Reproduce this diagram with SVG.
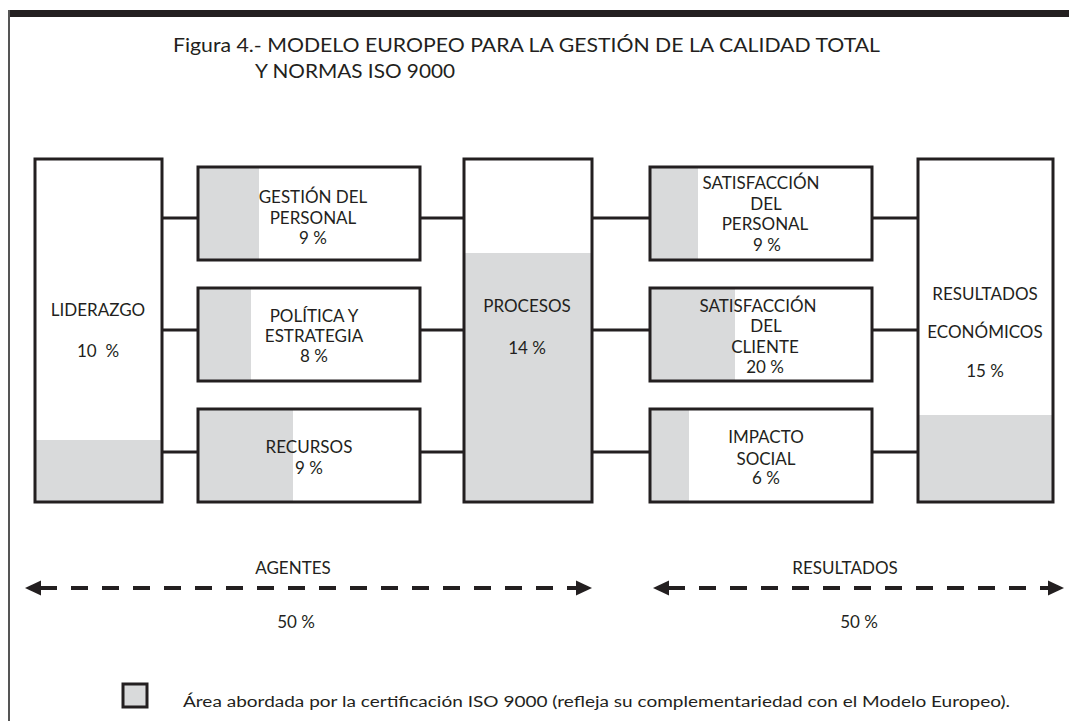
<svg xmlns="http://www.w3.org/2000/svg" width="1069" height="721" viewBox="0 0 1069 721">
<defs>
<style>
.box{fill:none;stroke:#231f20;stroke-width:3}
.sh{fill:#d9dadb}
.t{font-family:Lato,"Liberation Sans",sans-serif;font-size:17px;fill:#231f20;text-anchor:middle}
.ttl{font-family:Lato,"Liberation Sans",sans-serif;font-size:19px;fill:#231f20}
.con{stroke:#231f20;stroke-width:3;fill:none}
.dash{stroke:#231f20;stroke-width:4;fill:none;stroke-dasharray:17 14}
.ah{fill:#231f20}
</style>
</defs>
<rect width="1069" height="721" fill="#fff"/>
<rect x="8" y="10" width="1061" height="7" fill="#231f20"/>
<line x1="9" y1="10" x2="9" y2="721" stroke="#555" stroke-width="2"/>
<text class="ttl" x="173" y="52" textLength="707" lengthAdjust="spacingAndGlyphs">Figura 4.- MODELO EUROPEO PARA LA GESTIÓN DE LA CALIDAD TOTAL</text>
<text class="ttl" x="255" y="78" textLength="200" lengthAdjust="spacingAndGlyphs">Y NORMAS ISO 9000</text>

<g id="connectors">
<line class="con" x1="162" y1="218" x2="198" y2="218"/>
<line class="con" x1="162" y1="330" x2="198" y2="330"/>
<line class="con" x1="162" y1="452" x2="198" y2="452"/>
<line class="con" x1="420" y1="218" x2="464" y2="218"/>
<line class="con" x1="420" y1="330" x2="464" y2="330"/>
<line class="con" x1="420" y1="452" x2="464" y2="452"/>
<line class="con" x1="592" y1="218" x2="650" y2="218"/>
<line class="con" x1="592" y1="330" x2="650" y2="330"/>
<line class="con" x1="592" y1="452" x2="650" y2="452"/>
<line class="con" x1="872" y1="218" x2="918" y2="218"/>
<line class="con" x1="872" y1="330" x2="918" y2="330"/>
<line class="con" x1="872" y1="452" x2="918" y2="452"/>
</g>

<g id="liderazgo">
<rect class="sh" x="35" y="440" width="127" height="62"/>
<rect class="box" x="35" y="159" width="127" height="343"/>
<text class="t" x="98" y="316">LIDERAZGO</text>
<text class="t" x="98" y="357" xml:space="preserve">10  %</text>
</g>

<g id="gestion-personal">
<rect class="sh" x="198" y="167" width="61" height="93"/>
<rect class="box" x="198" y="167" width="222" height="93"/>
<text class="t" x="313" y="203">GESTIÓN DEL</text>
<text class="t" x="313" y="224">PERSONAL</text>
<text class="t" x="313" y="244">9 %</text>
</g>

<g id="politica">
<rect class="sh" x="198" y="288" width="53" height="93"/>
<rect class="box" x="198" y="288" width="222" height="93"/>
<text class="t" x="314" y="322">POLÍTICA Y</text>
<text class="t" x="314" y="342">ESTRATEGIA</text>
<text class="t" x="314" y="362">8 %</text>
</g>

<g id="recursos">
<rect class="sh" x="198" y="409" width="95" height="93"/>
<rect class="box" x="198" y="409" width="222" height="93"/>
<text class="t" x="309" y="453">RECURSOS</text>
<text class="t" x="309" y="474">9 %</text>
</g>

<g id="procesos">
<rect class="sh" x="464" y="253" width="128" height="249"/>
<rect class="box" x="464" y="159" width="128" height="343"/>
<text class="t" x="527" y="312">PROCESOS</text>
<text class="t" x="527" y="354">14 %</text>
</g>

<g id="satisfaccion-personal">
<rect class="sh" x="650" y="167" width="48" height="93"/>
<rect class="box" x="650" y="167" width="222" height="93"/>
<text class="t" x="761" y="189">SATISFACCIÓN</text>
<text class="t" x="766" y="210">DEL</text>
<text class="t" x="765" y="230">PERSONAL</text>
<text class="t" x="767" y="251">9 %</text>
</g>

<g id="satisfaccion-cliente">
<rect class="sh" x="650" y="288" width="85" height="93"/>
<rect class="box" x="650" y="288" width="222" height="93"/>
<text class="t" x="758" y="312">SATISFACCIÓN</text>
<text class="t" x="766" y="332">DEL</text>
<text class="t" x="765" y="353">CLIENTE</text>
<text class="t" x="765" y="373">20 %</text>
</g>

<g id="impacto-social">
<rect class="sh" x="650" y="409" width="39" height="93"/>
<rect class="box" x="650" y="409" width="222" height="93"/>
<text class="t" x="766" y="443">IMPACTO</text>
<text class="t" x="766" y="465">SOCIAL</text>
<text class="t" x="766" y="484">6 %</text>
</g>

<g id="resultados-economicos">
<rect class="sh" x="918" y="415" width="135" height="87"/>
<rect class="box" x="918" y="159" width="135" height="343"/>
<text class="t" x="985" y="300">RESULTADOS</text>
<text class="t" x="985" y="338">ECONÓMICOS</text>
<text class="t" x="985" y="377">15 %</text>
</g>

<g id="agentes">
<text class="t" x="293" y="574">AGENTES</text>
<line class="dash" x1="40" y1="588" x2="577" y2="588"/>
<polygon class="ah" points="25,588 41,580.5 41,595.5"/>
<polygon class="ah" points="592,588 576,580.5 576,595.5"/>
<text class="t" x="296" y="628">50 %</text>
</g>

<g id="resultados">
<text class="t" x="845" y="574">RESULTADOS</text>
<line class="dash" x1="668" y1="588" x2="1049" y2="588"/>
<polygon class="ah" points="653,588 669,580.5 669,595.5"/>
<polygon class="ah" points="1064,588 1048,580.5 1048,595.5"/>
<text class="t" x="859" y="628">50 %</text>
</g>

<g id="legend">
<rect x="123" y="684" width="24" height="23" fill="#d9dadb" stroke="#231f20" stroke-width="3"/>
<text x="183" y="707" style="font-family:Lato,'Liberation Sans',sans-serif;font-size:14.5px;fill:#231f20" textLength="827" lengthAdjust="spacingAndGlyphs">Área abordada por la certificación ISO 9000 (refleja su complementariedad con el Modelo Europeo).</text>
</g>
</svg>
